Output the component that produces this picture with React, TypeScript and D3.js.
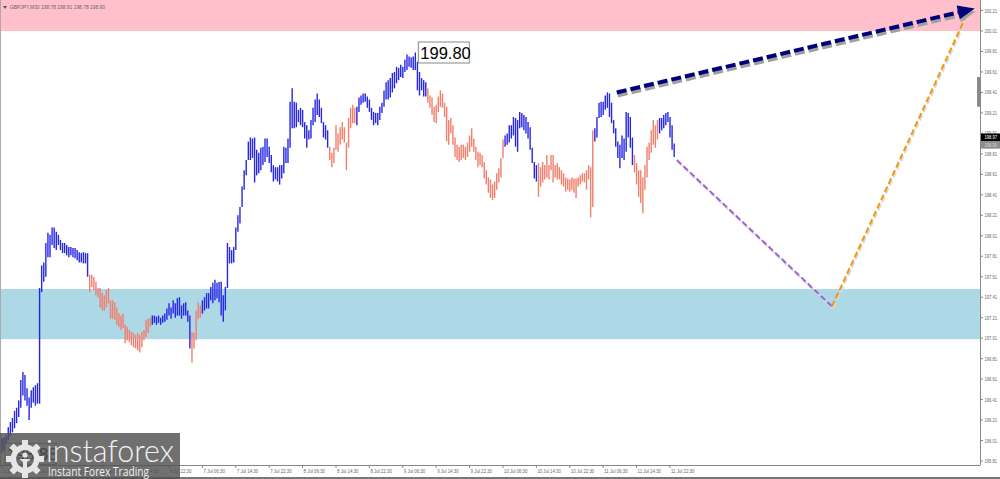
import React, { useEffect } from "react";
import * as d3 from "d3";

const BLUE = "#2626e4";
const SALMON = "#f27e6c";

// M30 bars as [high, low], one array per wave of the count
const wave1 = [
  [196.03, 195.89], [196.04, 195.91], [196.06, 195.93], [196.14, 196.01], [196.19, 196.05], [196.23, 196.09], [196.3, 196.13], [196.33, 196.18], [196.4, 196.24], [196.6, 196.33],
  [196.68, 196.45], [196.65, 196.4], [196.52, 196.35], [196.43, 196.21], [196.5, 196.33], [196.53, 196.38], [196.55, 196.35], [196.57, 196.37], [197.5, 196.37], [197.72, 197.46],
  [197.75, 197.56], [197.94, 197.61], [198.04, 197.8], [198.02, 197.8], [198.09, 197.92], [198.09, 197.89], [198.05, 197.87], [198.02, 197.92], [197.97, 197.87], [197.94, 197.84],
  [197.94, 197.84], [197.92, 197.82], [197.9, 197.8], [197.9, 197.82], [197.89, 197.8], [197.89, 197.79], [197.87, 197.77], [197.85, 197.75], [197.84, 197.75], [197.85, 197.74],
  [197.84, 197.74], [197.84, 197.61],
];
const wave2 = [
  [197.63, 197.46], [197.63, 197.51], [197.61, 197.48], [197.56, 197.43], [197.5, 197.41], [197.5, 197.31], [197.45, 197.28], [197.43, 197.28], [197.48, 197.31], [197.5, 197.35],
  [197.38, 197.2], [197.38, 197.2], [197.36, 197.19], [197.31, 197.14], [197.25, 197.12], [197.23, 197.09], [197.25, 197.11], [197.14, 196.96], [197.12, 196.99], [197.09, 196.97],
  [197.07, 196.94], [197.06, 196.92], [197.04, 196.91], [197.06, 196.89], [197.04, 196.87], [197.07, 196.92], [197.09, 196.99], [197.19, 197.02], [197.2, 197.06], [197.21, 197.12],
];
const wave3 = [
  [197.23, 197.14], [197.23, 197.16], [197.22, 197.14], [197.23, 197.16], [197.21, 197.14], [197.23, 197.16], [197.25, 197.17], [197.3, 197.19], [197.35, 197.23], [197.31, 197.2],
  [197.38, 197.25], [197.35, 197.21], [197.4, 197.23], [197.41, 197.23], [197.33, 197.2], [197.35, 197.23], [197.36, 197.23], [197.28, 197.17], [197.23, 196.91],
];
const wave4 = [
  [197.07, 196.77], [197.06, 196.91], [197.28, 196.99], [197.36, 197.2], [197.33, 197.21],
];
const wave5 = [
  [197.38, 197.25], [197.41, 197.28], [197.45, 197.3], [197.45, 197.3], [197.51, 197.38], [197.55, 197.35], [197.58, 197.38], [197.55, 197.4], [197.56, 197.36], [197.56, 197.23],
  [197.43, 197.17], [197.51, 197.28], [197.94, 197.5], [197.9, 197.74], [197.87, 197.74], [197.9, 197.75], [198.09, 197.87], [198.21, 198.05], [198.29, 198.13], [198.49, 198.29],
  [198.65, 198.46], [198.75, 198.6], [198.93, 198.75], [198.97, 198.75], [198.96, 198.77], [198.97, 198.53], [198.85, 198.6], [198.82, 198.62], [198.87, 198.65], [198.88, 198.7],
  [198.96, 198.73], [198.96, 198.78], [198.88, 198.72], [198.8, 198.63], [198.7, 198.54], [198.68, 198.56], [198.68, 198.54], [198.7, 198.51], [198.7, 198.57], [198.88, 198.62],
  [198.87, 198.72], [198.96, 198.72], [199.32, 198.87], [199.45, 199.06], [199.32, 199.06], [199.31, 199.07], [199.24, 199.12], [199.26, 199.09], [199.24, 199.07], [199.12, 198.96],
  [199.09, 198.87], [199.04, 198.95], [199.14, 198.96], [199.26, 199.09], [199.34, 199.12], [199.4, 199.19], [199.34, 199.17], [199.26, 199.11], [199.12, 198.97], [199.09, 198.95],
  [199.04, 198.87],
];
const wave6 = [
  [198.88, 198.75], [198.82, 198.68], [198.87, 198.72], [199.09, 198.85], [199.01, 198.83], [199.07, 198.9], [199.12, 198.95], [199.07, 198.92], [198.92, 198.65], [199.16, 198.87],
  [199.26, 199.06], [199.29, 199.11], [199.26, 199.11],
];
const wave7 = [
  [199.27, 199.09], [199.36, 199.22], [199.38, 199.29], [199.4, 199.31], [199.4, 199.32], [199.37, 199.26], [199.34, 199.22], [199.26, 199.14], [199.22, 199.09], [199.21, 199.11],
  [199.21, 199.09], [199.27, 199.14], [199.31, 199.21], [199.43, 199.27], [199.51, 199.34], [199.53, 199.34], [199.55, 199.36], [199.6, 199.41], [199.61, 199.45], [199.66, 199.5],
  [199.65, 199.53], [199.68, 199.56], [199.66, 199.55], [199.73, 199.61], [199.78, 199.63], [199.76, 199.66], [199.75, 199.65], [199.76, 199.63], [199.8, 199.63], [199.71, 199.43],
  [199.61, 199.38], [199.55, 199.43], [199.53, 199.37], [199.51, 199.37],
];
const wave8 = [
  [199.45, 199.31], [199.38, 199.26], [199.36, 199.19], [199.27, 199.12], [199.29, 199.11], [199.37, 199.22], [199.43, 199.27], [199.4, 199.26], [199.31, 199.17], [199.27, 198.93],
  [199.14, 198.9], [199.16, 199.01], [199.09, 198.9], [198.97, 198.78], [198.9, 198.75], [198.88, 198.73], [198.9, 198.75], [198.9, 198.77], [198.88, 198.75], [198.92, 198.78],
  [198.99, 198.83], [199.06, 198.88], [198.96, 198.83], [198.88, 198.75], [198.83, 198.68], [198.82, 198.7], [198.8, 198.68], [198.73, 198.57], [198.65, 198.51], [198.58, 198.43],
  [198.56, 198.38], [198.51, 198.36], [198.54, 198.38], [198.62, 198.46], [198.67, 198.53], [198.77, 198.58], [198.95, 198.77],
];
const wave9 = [
  [198.99, 198.88], [199.01, 198.9], [199.09, 198.92], [199.09, 198.96], [199.17, 198.99], [199.16, 198.88], [199.14, 198.83], [199.22, 199.06], [199.21, 199.07], [199.19, 199.04],
  [199.17, 199.01], [199.12, 198.96], [199.07, 198.85], [198.87, 198.72], [198.73, 198.57], [198.7, 198.54],
];
const wave10 = [
  [198.72, 198.39], [198.68, 198.49], [198.73, 198.53], [198.7, 198.56], [198.8, 198.58], [198.7, 198.56], [198.8, 198.65], [198.8, 198.53], [198.7, 198.58], [198.72, 198.56],
  [198.68, 198.56], [198.65, 198.51], [198.62, 198.49], [198.58, 198.44], [198.57, 198.46], [198.56, 198.44], [198.58, 198.46], [198.57, 198.43], [198.57, 198.38], [198.58, 198.49],
  [198.6, 198.51], [198.62, 198.54], [198.62, 198.53], [198.65, 198.46], [198.7, 198.56], [198.68, 198.19], [199.04, 198.29],
];
const wave11 = [
  [199.06, 198.93], [199.17, 198.97], [199.31, 199.16], [199.32, 199.17], [199.32, 199.19], [199.38, 199.24], [199.41, 199.26], [199.4, 199.17], [199.31, 199.11], [199.14, 199.01],
  [199.06, 198.88], [198.93, 198.77], [198.9, 198.67], [198.99, 198.77], [198.96, 198.75], [199.22, 198.83], [199.21, 198.97], [199.17, 198.87], [198.97, 198.7],
];
const wave12 = [
  [198.8, 198.63], [198.72, 198.51], [198.65, 198.39], [198.65, 198.33], [198.58, 198.23], [198.7, 198.46], [198.88, 198.58], [198.92, 198.75], [199.04, 198.82], [199.14, 198.9],
  [199.09, 198.87], [199.14, 198.95],
];
const wave13 = [
  [199.16, 199.01], [199.16, 199.04], [199.19, 199.06], [199.21, 199.09], [199.22, 199.12], [199.17, 198.97], [199.09, 198.85], [198.91, 198.78],
];

const waves = [
  { bars: wave1, color: BLUE }, { bars: wave2, color: SALMON }, { bars: wave3, color: BLUE },
  { bars: wave4, color: SALMON }, { bars: wave5, color: BLUE }, { bars: wave6, color: SALMON },
  { bars: wave7, color: BLUE }, { bars: wave8, color: SALMON }, { bars: wave9, color: BLUE },
  { bars: wave10, color: SALMON }, { bars: wave11, color: BLUE }, { bars: wave12, color: SALMON },
  { bars: wave13, color: BLUE },
];

const timeLabels = [
  "3 Jul 06:30", "3 Jul 14:30", "3 Jul 22:30", "4 Jul 06:30", "4 Jul 14:30", "4 Jul 22:30",
  "7 Jul 06:30", "7 Jul 14:30", "7 Jul 22:30", "8 Jul 06:30", "8 Jul 14:30", "8 Jul 22:30",
  "9 Jul 06:30", "9 Jul 14:30", "9 Jul 22:30", "10 Jul 06:30", "10 Jul 14:30", "10 Jul 22:30",
  "11 Jul 06:30", "11 Jul 14:30", "11 Jul 22:30",
];
const barsPerLabel = 16;

const priceTicks = [
  200.21, 200.01, 199.81, 199.61, 199.41, 199.21, 199.01, 198.81, 198.61, 198.41, 198.21, 198.01,
  197.81, 197.61, 197.41, 197.21, 197.01, 196.81, 196.61, 196.41, 196.21, 196.01, 195.81,
];

const header = "GBPJPY,M30  198.78 198.91 198.78 198.90";
const askPrice = 198.97;
const bidPrice = 198.9;
const resistanceZone = [200.01, 201.0];
const supportZone = [197.49, 197.0];
const peakLabel = { i: 198, p: 199.8, text: "199.80" };
const lowLabel = { i: 0, p: 195.88, text: "195.88" };

// forecast paths, in [bar index, price]
const mainTarget = [[294.5, 199.41], [466, 200.23]];
const pullback = [[323.3, 198.75], [397.6, 197.32]];
const rebound = [[397.6, 197.32], [461.5, 200.14]];

const W = 1000;
const H = 479;
const axisX = 980;
const axisY = 465;

export default function App() {
  useEffect(() => {
    document.body.style.margin = "0";
  }, []);

  const x = d3.scaleLinear().domain([0, 320]).range([2, 670]);
  const y = d3.scaleLinear().domain([195.81, 200.01]).range([461, 31]);
  const line = d3.line<number[]>().x((d) => x(d[0])).y((d) => y(d[1]));

  let start = 0;
  const bars: { i: number; h: number; l: number; color: string }[] = [];
  waves.forEach((w) => {
    w.bars.forEach((b, k) => bars.push({ i: start + k, h: b[0], l: b[1], color: w.color }));
    start += w.bars.length;
  });

  const arrowEnd = mainTarget[1];
  const ax = x(arrowEnd[0]);
  const ay = y(arrowEnd[1]);
  const angle = Math.atan2(
    y(mainTarget[1][1]) - y(mainTarget[0][1]),
    x(mainTarget[1][0]) - x(mainTarget[0][0])
  );
  const headLen = 17;
  const headW = 7;
  const hx = ax - headLen * Math.cos(angle);
  const hy = ay - headLen * Math.sin(angle);
  const arrowHead = [
    [ax, ay],
    [hx + headW * Math.sin(angle), hy - headW * Math.cos(angle)],
    [hx - headW * Math.sin(angle), hy + headW * Math.cos(angle)],
  ];
  const shaftEnd = [x.invert(ax - (headLen - 3) * Math.cos(angle)), y.invert(ay - (headLen - 3) * Math.sin(angle))];
  const shaft = line([mainTarget[0], shaftEnd]) as string;

  // gear for the logo
  const gearCx = 25;
  const gearCy = 459;
  const ring = d3.arc()({ innerRadius: 9, outerRadius: 14.5, startAngle: 0, endAngle: 2 * Math.PI }) as string;
  const teeth = d3.range(8).map((k) => (k * 360) / 8);

  const smallFont = "Liberation Sans, Arial, sans-serif";
  const charW = 1.95;

  return (
    <svg width={W} height={H} style={{ display: "block", position: "absolute", left: 0, top: 0, background: "#fff" }}>
      {/* zones */}
      <rect x={0} y={0} width={axisX} height={y(resistanceZone[0])} fill="#ffc0cb" />
      <rect x={0} y={y(supportZone[0])} width={axisX} height={y(supportZone[1]) - y(supportZone[0])} fill="#add8e6" />

      {/* header */}
      <path d="M3,6 L7,6 L5,9 Z" fill="#555" />
      <text x={10} y={9} fontSize={5.6} fill="#666" fontFamily={smallFont} textLength={95} lengthAdjust="spacingAndGlyphs">{header}</text>

      {/* bars */}
      <g>
        {bars.map((b) => (
          <line key={b.i} x1={x(b.i)} x2={x(b.i)} y1={y(b.h)} y2={y(b.l)} stroke={b.color} strokeWidth={1.4} />
        ))}
      </g>

      {/* forecast lines */}
      <path d={shaft} transform="translate(1,3)" stroke="#a0a0a0" strokeWidth={4} strokeDasharray="10 4" fill="none" />
      <path d={line(pullback) as string} transform="translate(1,2)" stroke="#d8d8d8" strokeWidth={2} strokeDasharray="6 3" fill="none" />
      <path d={line(rebound) as string} transform="translate(1,2)" stroke="#d8d8d8" strokeWidth={2} strokeDasharray="6 3" fill="none" />
      <path d={line(pullback) as string} stroke="#9d63d6" strokeWidth={2} strokeDasharray="6 3" fill="none" />
      <path d={line(rebound) as string} stroke="#f5950f" strokeWidth={2} strokeDasharray="6 3" fill="none" />
      <path d={shaft} stroke="#00007a" strokeWidth={4} strokeDasharray="10 4" fill="none" />
      <polygon points={arrowHead.map((p) => p.join(",")).join(" ")} transform="translate(1,3)" fill="#a0a0a0" />
      <polygon points={arrowHead.map((p) => p.join(",")).join(" ")} fill="#00007a" />

      {/* price labels */}
      {[peakLabel, lowLabel].map((lb) => (
        <g key={lb.text}>
          <rect x={x(lb.i) + 3} y={y(lb.p) - 10.5} width={51} height={21} fill="#fff" stroke="#888" strokeWidth={1} />
          <text x={x(lb.i) + 5} y={y(lb.p) + 6} fontSize={16.5} fill="#000" fontFamily={smallFont}>{lb.text}</text>
        </g>
      ))}

      {/* axes */}
      <line x1={axisX + 0.5} x2={axisX + 0.5} y1={0} y2={axisY} stroke="#888" />
      <line x1={0} x2={axisX + 0.5} y1={axisY + 0.5} y2={axisY + 0.5} stroke="#888" />
      <line x1={0.5} x2={0.5} y1={0} y2={axisY} stroke="#aaa" />
      <rect x={axisX - 3} y={y(199.56)} width={3} height={y(199.27) - y(199.56)} fill="#8a8a8a" />
      {priceTicks.map((p) => (
        <g key={p}>
          <line x1={axisX} x2={axisX + 3} y1={y(p)} y2={y(p)} stroke="#888" />
          <text x={axisX + 4.5} y={y(p) + 2} fontSize={5} fill="#666" fontFamily={smallFont}
            textLength={12.5} lengthAdjust="spacingAndGlyphs">{p.toFixed(2)}</text>
        </g>
      ))}
      {timeLabels.map((t, k) => (
        <g key={t}>
          <line x1={x(k * barsPerLabel)} x2={x(k * barsPerLabel)} y1={axisY} y2={axisY + 3} stroke="#888" />
          <text x={x(k * barsPerLabel) + 1} y={axisY + 7.5} fontSize={5.3} fill="#666" fontFamily={smallFont}
            textLength={t.length * charW} lengthAdjust="spacingAndGlyphs">{t}</text>
        </g>
      ))}
      <rect x={axisX + 1} y={y(askPrice) - 4} width={W - axisX - 1} height={8} fill="#000" />
      <text x={axisX + 4.5} y={y(askPrice) + 2} fontSize={5} fill="#fff" fontFamily={smallFont}
        textLength={12.5} lengthAdjust="spacingAndGlyphs">{askPrice.toFixed(2)}</text>
      <rect x={axisX + 1} y={y(bidPrice) - 3.5} width={W - axisX - 1} height={7.5} fill="#8c8c8c" />
      <text x={axisX + 4.5} y={y(bidPrice) + 2} fontSize={5} fill="#d8d8d8" fontFamily={smallFont}
        textLength={12.5} lengthAdjust="spacingAndGlyphs">{bidPrice.toFixed(2)}</text>
      <rect x={0} y={H - 2} width={W} height={2} fill="#777" />

      {/* logo */}
      <g>
        <rect x={0} y={433} width={180} height={46} fill="#505050" opacity={0.82} />
        <g transform={`translate(${gearCx},${gearCy})`} fill="#e6e6e6">
          <path d={ring} />
          {teeth.map((a) => (
            <rect key={a} x={-3} y={-19} width={6} height={7} transform={`rotate(${a})`} />
          ))}
          <circle cx={0} cy={-4} r={2.6} />
          <path d="M-6,0 L6,0 L2,3 L2,12 L-2,12 L-2,3 Z" />
        </g>
        <text x={46} y={462} fontSize={31} fill="#f2f2f2" fontFamily="Lato, Open Sans, sans-serif" fontWeight={300}
          textLength={128} lengthAdjust="spacingAndGlyphs">instaforex</text>
        <text x={48} y={475.5} fontSize={12.5} fill="#f2f2f2" fontFamily="Open Sans, sans-serif"
          textLength={101} lengthAdjust="spacingAndGlyphs">Instant Forex Trading</text>
      </g>
    </svg>
  );
}
